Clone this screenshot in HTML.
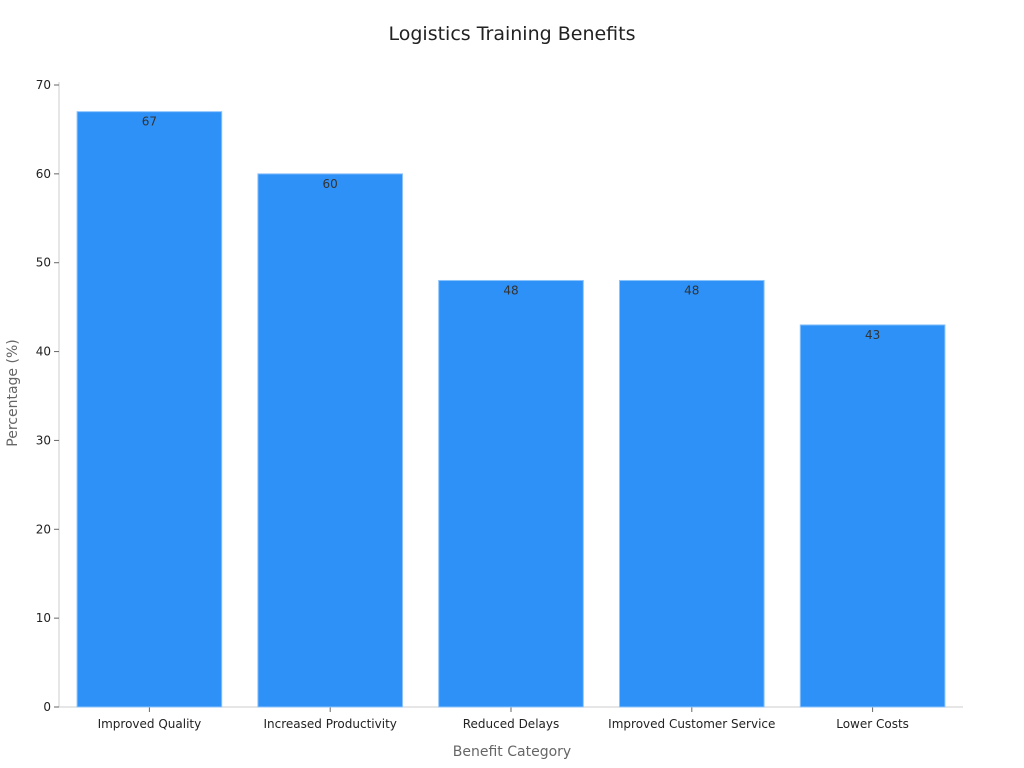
<!DOCTYPE html>
<html><head><meta charset="utf-8"><style>
body{margin:0;background:#fff;}
svg{display:block;font-family:"DejaVu Sans","Liberation Sans",sans-serif;}
</style></head><body>
<svg id="chart" width="1024" height="768">
<text x="512" y="40" text-anchor="middle" font-size="19" fill="#222">Logistics Training Benefits</text>
<g id="axes"></g><g id="bars"></g>
<text x="512" y="756" text-anchor="middle" font-size="14" fill="#666">Benefit Category</text>
<text transform="translate(17,393) rotate(-90)" text-anchor="middle" font-size="14" fill="#666">Percentage (%)</text>
</svg>
<script>
const categories=["Improved Quality","Increased Productivity","Reduced Delays","Improved Customer Service","Lower Costs"];
const values=[67,60,48,48,43];
const yTicks=[0,10,20,30,40,50,60,70];
const NS="http://www.w3.org/2000/svg";
const x0=59,x1=963,yBase=707,yTop=85,yMax=70;
const band=(x1-x0)/categories.length;
const xs=i=>x0+band*i;
const ys=v=>yBase-(v/yMax)*(yBase-yTop);
function mk(tag,attrs,parent){const e=document.createElementNS(NS,tag);for(const k in attrs)e.setAttribute(k,attrs[k]);parent.appendChild(e);return e;}
const axes=document.getElementById('axes'),bars=document.getElementById('bars');
let l=mk('line',{x1:x0,y1:ys(yMax)-3,x2:x0,y2:yBase,stroke:'#ccc'},axes);


l=mk('line',{x1:x0,y1:yBase,x2:x1,y2:yBase,stroke:'#ccc'},axes);


yTicks.forEach(t=>{
 const y=ys(t);
 const tk=mk('line',{x1:x0-5,y1:y,x2:x0,y2:y,stroke:'#666'},axes);
 
 
 const tx=mk('text',{x:x0-8,y:y+4,'text-anchor':'end','font-size':12,fill:'#222'},axes);
 tx.textContent=t;
 
 
});
categories.forEach((c,i)=>{
 const bx=xs(i)+band*0.1,bw=band*0.8,y=ys(values[i]);
 const r=mk('rect',{x:bx,y:y,width:bw,height:yBase-y,fill:'#2e91f7',stroke:'#8cc3fb','stroke-width':1},bars);
 
 
 const v=mk('text',{x:bx+bw/2,y:y+14,'text-anchor':'middle','font-size':12,fill:'#333'},bars);
 v.textContent=values[i];
 
 
 const cx=xs(i)+band/2;
 const tk=mk('line',{x1:cx,y1:yBase,x2:cx,y2:yBase+5,stroke:'#666'},axes);
 
 
 const tx=mk('text',{x:cx,y:yBase+21,'text-anchor':'middle','font-size':12,fill:'#222'},axes);
 tx.textContent=c;
 
 
});
</script>
</body></html>
